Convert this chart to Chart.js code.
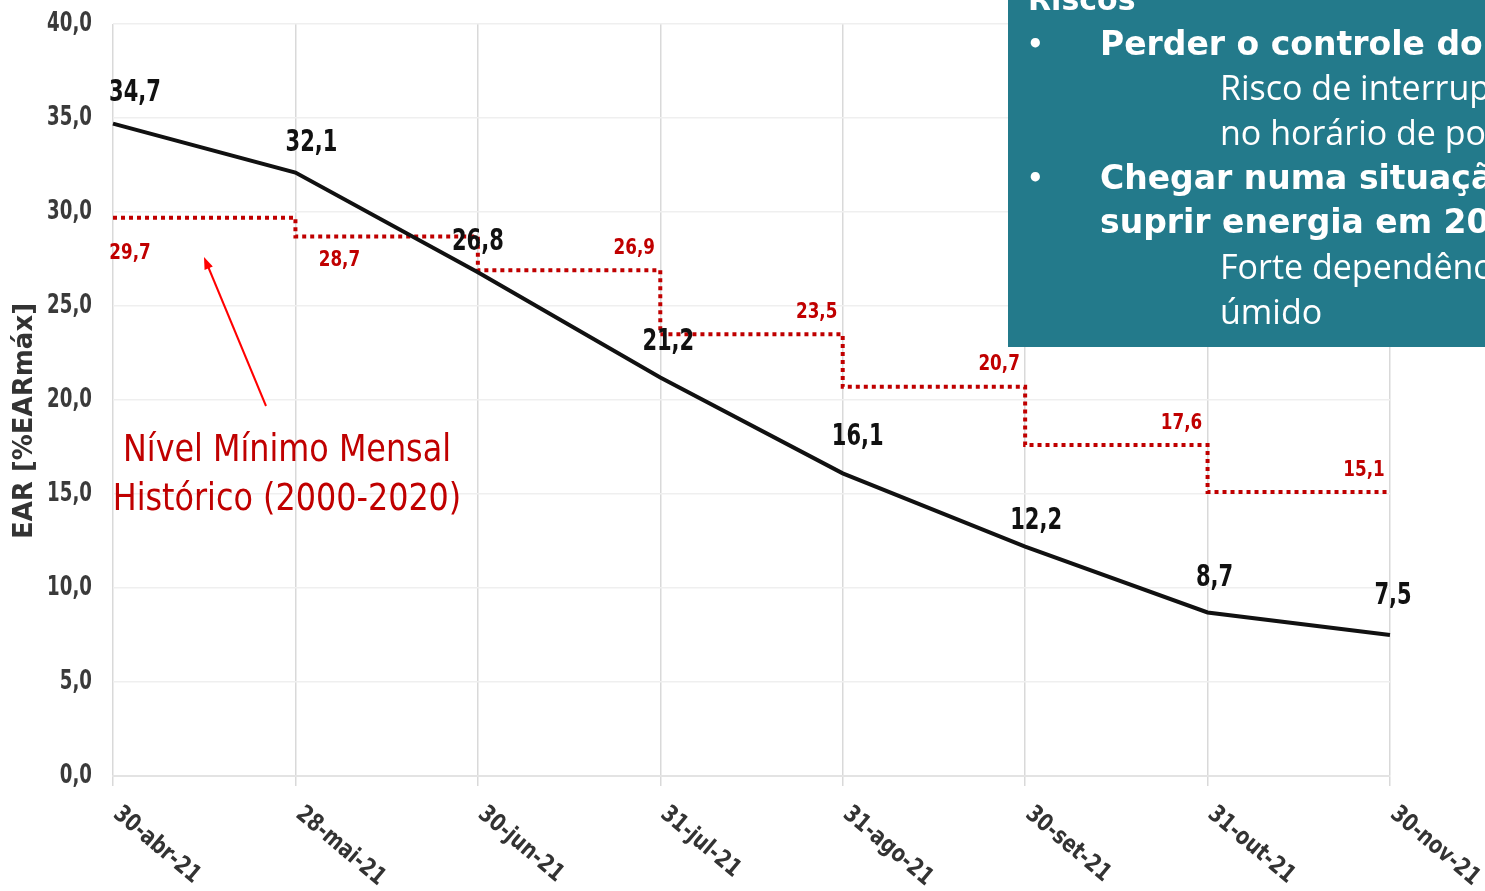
<!DOCTYPE html>
<html>
<head>
<meta charset="utf-8">
<script src="https://cdn.jsdelivr.net/npm/chart.js@4.4.0/dist/chart.umd.min.js"></script>
<style>
body { margin: 0; background: #fff; }
#wrap { width: 1485px; height: 891px; position: relative; }
</style>
</head>
<body>
<div id="wrap"><canvas id="line-chart"></canvas></div>
<script>
// chart data
var categories = ['30-abr-21', '28-mai-21', '30-jun-21', '31-jul-21', '31-ago-21', '30-set-21', '31-out-21', '30-nov-21']
var earValues = [34.7, 32.1, 26.8, 21.2, 16.1, 12.2, 8.7, 7.5]
// historical monthly minimum, one value per month (last repeated to close the step)
var minLevel = [29.7, 28.7, 26.9, 23.5, 20.7, 17.6, 15.1, 15.1]
var yTicks = [0, 5, 10, 15, 20, 25, 30, 35, 40]

var axisTitle = 'EAR [%EARmáx]'
var noteLines = ['Nível Mínimo Mensal', 'Histórico (2000-2020)']
var boxTitle = 'Riscos'
var boxLines = [
    { text: 'Perder o controle do sistema', bold: true, bullet: true },
    { text: 'Risco de interrupção', bold: false },
    { text: 'no horário de ponta', bold: false },
    { text: 'Chegar numa situação', bold: true, bullet: true },
    { text: 'suprir energia em 2021', bold: true },
    { text: 'Forte dependência', bold: false },
    { text: 'úmido', bold: false }
]

var sans = '"DejaVu Sans", sans-serif'
var red = '#c00000'

function fmt(v) {
    return v.toFixed(1).replace('.', ',')
}

// draw text squeezed horizontally (no narrow font available)
function narrowText(ctx, text, x, y, sx) {
    ctx.save()
    ctx.translate(x, y)
    ctx.scale(sx, 1)
    ctx.fillText(text, 0, 0)
    ctx.restore()
}

// extra drawing: value labels, note, arrow, axis labels, side box
var extras = {
    id: 'extras',
    afterDraw: function(chart) {
        var ctx = chart.ctx
        var area = chart.chartArea
        var xs = chart.scales.x
        var ys = chart.scales.y
        ctx.save()

        // y tick labels
        ctx.font = 'bold 26px ' + sans
        ctx.fillStyle = '#3a3a3a'
        ctx.textAlign = 'right'
        ctx.textBaseline = 'middle'
        yTicks.forEach(function(v) {
            narrowText(ctx, fmt(v), 92, ys.getPixelForValue(v), 0.7)
        })

        // black value labels
        var blackOff = [[22, -30], [16, -29], [0, -30], [8, -35], [15, -36], [11, -25], [7, -34], [3, -39]]
        ctx.font = 'bold 30px ' + sans
        ctx.fillStyle = '#111'
        ctx.textAlign = 'center'
        var m0 = chart.getDatasetMeta(0)
        earValues.forEach(function(v, i) {
            var p = m0.data[i]
            narrowText(ctx, fmt(v), p.x + blackOff[i][0], p.y + blackOff[i][1], 0.7)
        })

        // red step labels
        ctx.font = 'bold 21px ' + sans
        ctx.fillStyle = red
        for (var i = 0; i < minLevel.length - 1; i++) {
            var x0 = xs.getPixelForValue(i)
            var x1 = xs.getPixelForValue(i + 1)
            var y = ys.getPixelForValue(minLevel[i])
            if (i == 0) narrowText(ctx, fmt(minLevel[i]), x0 + 17, y + 36, 0.8)
            else if (i == 1) narrowText(ctx, fmt(minLevel[i]), x0 + 44, y + 24, 0.8)
            else narrowText(ctx, fmt(minLevel[i]), x1 - 26, y - 22, 0.8)
        }

        // note text
        ctx.font = '37px ' + sans
        narrowText(ctx, noteLines[0], 287, 451, 0.86)
        narrowText(ctx, noteLines[1], 287, 500, 0.86)

        // arrow
        ctx.strokeStyle = '#ff0000'
        ctx.fillStyle = '#ff0000'
        ctx.lineWidth = 2
        ctx.beginPath()
        ctx.moveTo(266, 406)
        ctx.lineTo(207, 264)
        ctx.stroke()
        var ang = Math.atan2(257 - 406, 204 - 266)
        ctx.beginPath()
        ctx.moveTo(204, 257)
        ctx.lineTo(204 - 13 * Math.cos(ang - 0.35), 257 - 13 * Math.sin(ang - 0.35))
        ctx.lineTo(204 - 13 * Math.cos(ang + 0.35), 257 - 13 * Math.sin(ang + 0.35))
        ctx.closePath()
        ctx.fill()

        // rotated x labels
        ctx.font = 'bold 24px ' + sans
        ctx.fillStyle = '#333'
        ctx.textAlign = 'left'
        ctx.textBaseline = 'top'
        categories.forEach(function(c, i) {
            var x = xs.getPixelForValue(i)
            ctx.save()
            ctx.translate(x + 11, area.bottom + 26)
            ctx.rotate(0.7)
            ctx.scale(0.8, 1)
            ctx.fillText(c, 0, 0)
            ctx.restore()
        })

        // y axis title
        ctx.save()
        ctx.translate(25, 421)
        ctx.rotate(-Math.PI / 2)
        ctx.textAlign = 'center'
        ctx.textBaseline = 'middle'
        ctx.font = 'bold 26px ' + sans
        ctx.fillStyle = '#333'
        ctx.fillText(axisTitle, 0, 0)
        ctx.restore()

        // teal box top right
        ctx.fillStyle = '#237a8b'
        ctx.fillRect(1008, 0, 477, 347)
        ctx.fillStyle = '#fff'
        ctx.textAlign = 'left'
        ctx.textBaseline = 'middle'
        ctx.font = 'bold 30px ' + sans
        ctx.fillText(boxTitle, 1028, 2)
        var rowY = 46
        boxLines.forEach(function(l) {
            if (l.bold) {
                ctx.font = 'bold 33px ' + sans
                ctx.fillText(l.text, 1100, rowY)
            } else {
                ctx.font = '34px "Open Sans", sans-serif'
                ctx.fillText(l.text, 1220, rowY)
            }
            if (l.bullet) {
                ctx.font = 'bold 26px ' + sans
                ctx.fillText('•', 1027, rowY)
            }
            rowY += 44.7
        })

        ctx.restore()
    }
}

var lineChart = document.getElementById('line-chart').getContext('2d')

new Chart(lineChart, {
    type: 'line',
    data: {
        labels: categories,
        datasets: [
            {
                label: 'EAR',
                data: earValues,
                borderColor: '#111',
                borderWidth: 4,
                pointRadius: 0,
                tension: 0,
                fill: false
            },
            {
                label: 'Nível Mínimo Mensal',
                data: minLevel,
                borderColor: red,
                borderWidth: 4,
                borderDash: [4, 4],
                stepped: 'before',
                pointRadius: 0,
                fill: false
            }
        ]
    },
    options: {
        responsive: true,
        maintainAspectRatio: false,
        animation: false,
        layout: { padding: { top: 24, right: 95, left: 0, bottom: 0 } },
        plugins: {
            legend: { display: false },
            tooltip: { enabled: false }
        },
        scales: {
            x: {
                afterFit: function(s) { s.height = 115 },
                grid: {
                    color: '#d9d9d9',
                    lineWidth: 1.5,
                    drawTicks: true,
                    tickLength: 10
                },
                border: { color: '#e3e3e3', width: 2 },
                ticks: { display: false }
            },
            y: {
                min: 0,
                max: 40,
                afterFit: function(s) { s.width = 113 },
                afterBuildTicks: function(s) {
                    s.ticks = yTicks.map(function(v) { return { value: v } })
                },
                grid: { color: '#efefef', lineWidth: 1.5, drawTicks: false },
                border: { display: false },
                ticks: { display: false }
            }
        }
    },
    plugins: [extras]
})
</script>
</body>
</html>
